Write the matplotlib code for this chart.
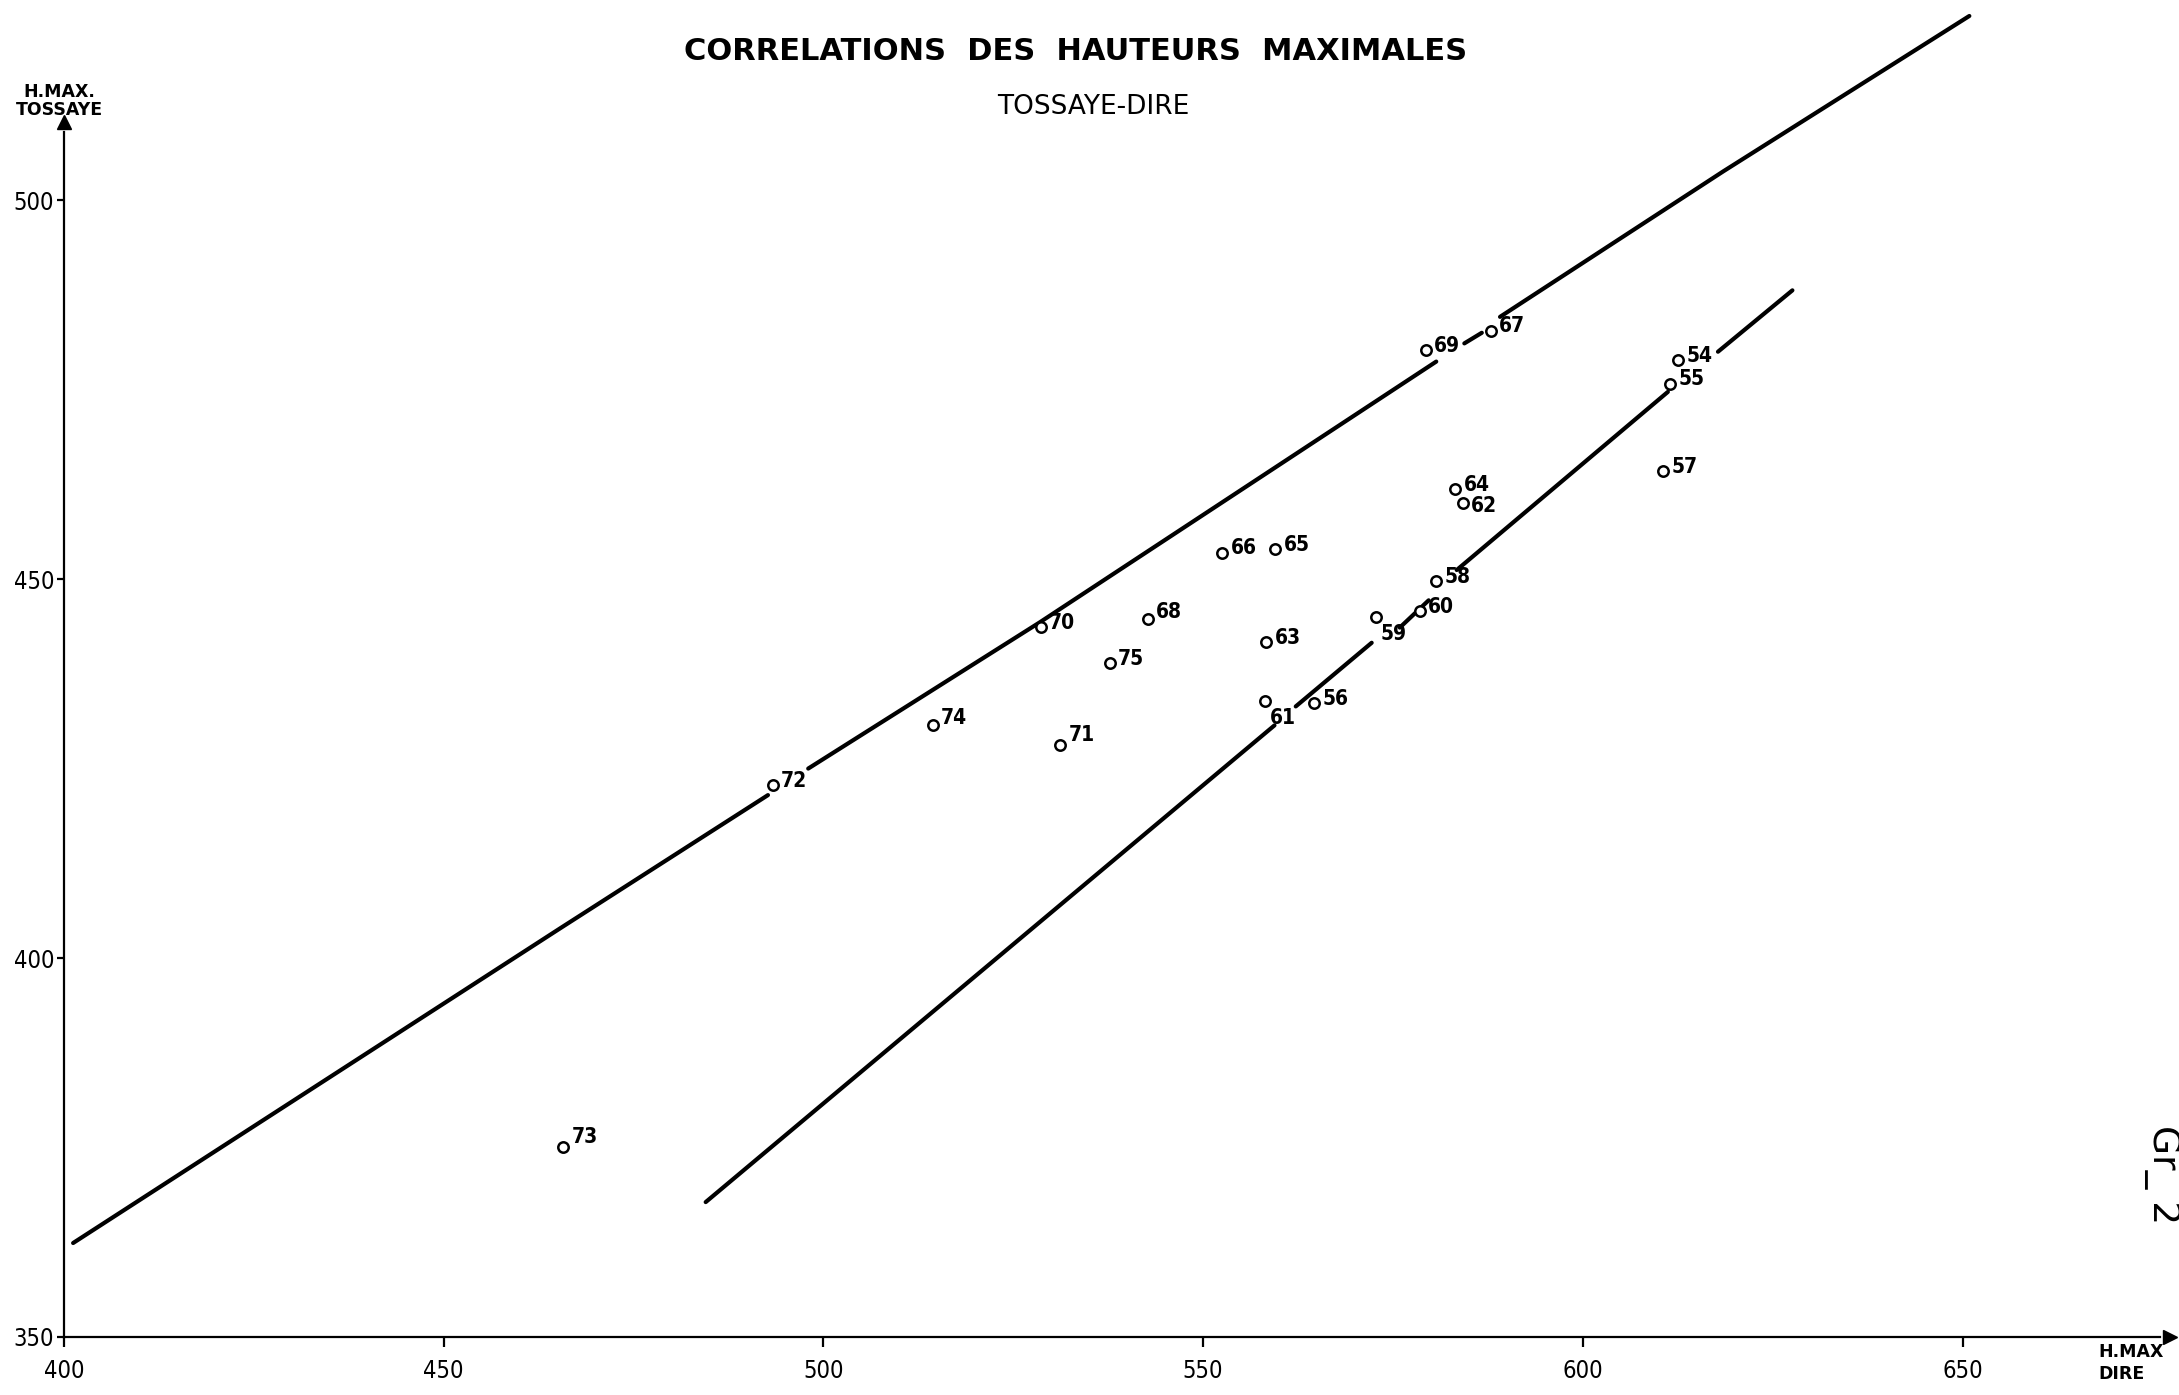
import numpy as np
import matplotlib
matplotlib.use('Agg')
import matplotlib.pyplot as plt

# Correlations des hauteurs maximales Tossaye - Dire (Gr. 2)

nan = np.nan

# annees (labels) et hauteurs max
years = ['54', '55', '56', '57', '58', '59', '60', '61', '62', '63', '64',
         '65', '66', '67', '68', '69', '70', '71', '72', '73', '74', '75']
hmax_dire = [612.6, 611.5, 564.6, 610.6, 580.7, 572.8, 578.5, 558.2, 584.2, 558.3, 583.2,
             559.5, 552.5, 587.9, 542.7, 579.3, 528.6, 531.2, 493.3, 465.7, 514.4, 537.7]
hmax_tossaye = [478.9, 475.8, 433.6, 464.2, 449.7, 445.0, 445.8, 433.9, 460.0, 441.7, 461.9,
                454.0, 453.5, 482.8, 444.7, 480.2, 443.7, 428.1, 422.8, 375.1, 430.7, 438.9]

# courbes enveloppes tracees a la main (nan = interruption du trait)
upper_x = [401.2, 465.3, 492.7, nan, 498.0, 528.5, 580.7, nan, 584.4, 586.7, nan, 589.1, 618.5, 650.9]
upper_y = [362.4, 403.9, 421.5, nan, 425.0, 444.3, 478.7, nan, 481.1, 482.5, nan, 484.6, 503.8, 524.3]
lower_x = [484.5, 559.4, nan, 562.2, 572.2, nan, 575.9, 579.7, nan, 583.4, 611.2, nan, 617.8, 627.6]
lower_y = [367.8, 430.7, nan, 433.2, 441.6, nan, 443.6, 447.2, nan, 451.2, 474.7, nan, 480.0, 488.1]

x_ticks = [400, 450, 500, 550, 600, 650]
y_ticks = [350, 400, 450, 500]

fig = plt.figure(figsize=(21.79, 13.95), dpi=100)
W, H = 2179, 1395
left_px, bottom_px = 64, 58
ax = fig.add_axes([left_px / W, bottom_px / H, 1 - left_px / W, 1 - bottom_px / H])
ax.set_xlim(400, 400 + (W - left_px) / 7.594)
ax.set_ylim(350, 350 + (H - bottom_px) / 7.579)
ax.patch.set_alpha(0)

ax.spines['top'].set_visible(False)
ax.spines['right'].set_visible(False)
for s in ('left', 'bottom'):
    ax.spines[s].set_linewidth(1.6)
ax.spines['left'].set_bounds(350, 509)
ax.spines['bottom'].set_bounds(400, 676)

# fleches des axes
ax.plot([400], [510.3], marker='^', ms=10, color='k', clip_on=False)
ax.plot([677.3], [350], marker='>', ms=10, color='k', clip_on=False)

ax.set_xticks(x_ticks)
ax.set_yticks(y_ticks)
ax.tick_params(axis='x', direction='out', length=7, width=1.6, pad=9, labelsize=17)
ax.tick_params(axis='y', direction='out', length=5, width=1.6, pad=2, labelsize=17)
for lab in ax.get_xticklabels() + ax.get_yticklabels():
    lab.set_fontstretch('condensed')

# droites de correlation
ax.plot(upper_x, upper_y, color='k', lw=3.0, solid_capstyle='round')
ax.plot(lower_x, lower_y, color='k', lw=3.0, solid_capstyle='round')

# points annuels
ax.plot(hmax_dire, hmax_tossaye, 'o', ms=7.5, mfc='white', mec='k', mew=1.8, zorder=3)

# decalage des etiquettes (points) : par defaut a droite, un peu au-dessus
offsets = {'59': (3, -12), '61': (3, -12), '62': (6, -2), '71': (6, 7),
           '73': (6, 7), '68': (6, 5), '74': (6, 5)}
for yr, xv, yv in zip(years, hmax_dire, hmax_tossaye):
    dx, dy = offsets.get(yr, (6, 3))
    ax.annotate(yr, (xv, yv), xytext=(dx, dy), textcoords='offset points',
                ha='left', va='center', fontsize=15, fontweight='bold', fontstretch='condensed')

fig.text(774 * 1.3897 / W, 1 - 37 * 1.3897 / H, 'CORRELATIONS  DES  HAUTEURS  MAXIMALES',
         ha='center', va='center', fontsize=22, fontweight='bold')
fig.text(787 * 1.3897 / W, 1 - 77 * 1.3897 / H, 'TOSSAYE-DIRE',
         ha='center', va='center', fontsize=19)

fig.text(43 * 1.3897 / W, 1 - 73 * 1.3897 / H, 'H.MAX.\nTOSSAYE', ha='center', va='center',
         fontsize=12.5, fontweight='bold', linespacing=1.0)
fig.text(1510 * 1.3897 / W, 1 - 981 * 1.3897 / H, 'H.MAX\nDIRE', ha='left', va='center',
         fontsize=12.5, fontweight='bold', linespacing=1.3)

fig.text(1556 * 1.3897 / W, 1 - 845 * 1.3897 / H, 'Gr_ 2', rotation=-90, ha='center', va='center',
         fontsize=27)

fig.savefig('out.png', dpi=100, facecolor='white')
